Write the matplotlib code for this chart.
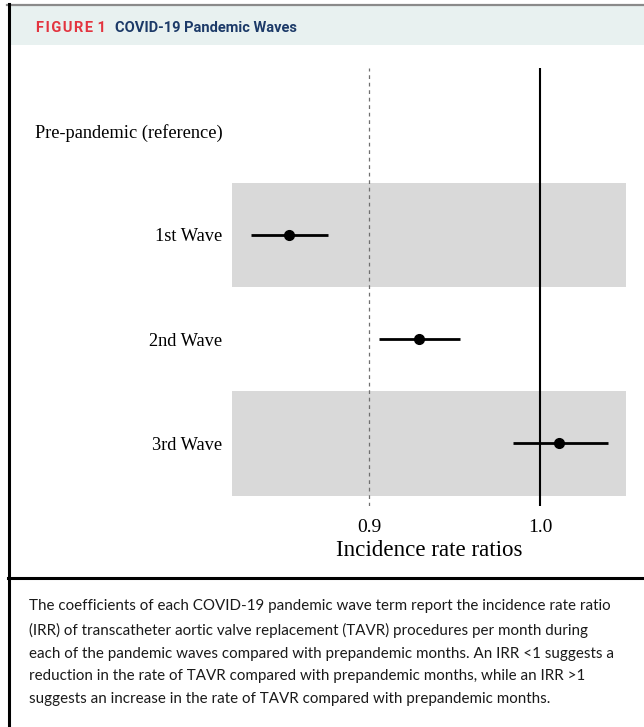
import numpy as np
import matplotlib
matplotlib.use("Agg")
import matplotlib.pyplot as plt
from matplotlib.lines import Line2D
from matplotlib.patches import Rectangle

# data
groups = ["Pre-pandemic (reference)", "1st Wave", "2nd Wave", "3rd Wave"]
irr = [np.nan, 0.853, 0.929, 1.011]
irr_low = [np.nan, 0.831, 0.906, 0.984]
irr_high = [np.nan, 0.876, 0.953, 1.040]
xticks = [0.9, 1.0]
xticklabels = ["0.9", "1.0"]

caption = (
    "The coefficients of each COVID-19 pandemic wave term report the incidence rate ratio\n"
    "(IRR) of transcatheter aortic valve replacement (TAVR) procedures per month during\n"
    "each of the pandemic waves compared with prepandemic months. An IRR <1 suggests a\n"
    "reduction in the rate of TAVR compared with prepandemic months, while an IRR >1\n"
    "suggests an increase in the rate of TAVR compared with prepandemic months."
)

W, H = 644, 727
fig = plt.figure(figsize=(W / 100, H / 100), dpi=100)
fig.patch.set_facecolor("white")


def fx(px):
    return px / W


def fy(py):
    return 1 - py / H


# header band and frame
fig.patches.append(Rectangle((fx(9), fy(45)), fx(W) - fx(9), fy(6) - fy(45),
                             transform=fig.transFigure, facecolor="#e8f1f0",
                             edgecolor="none", zorder=0))
fig.lines.append(Line2D([fx(7), 1], [fy(5), fy(5)], transform=fig.transFigure,
                        color="#8a8a8a", lw=1.6))
fig.lines.append(Line2D([fx(8.5), fx(8.5)], [fy(4), 0], transform=fig.transFigure,
                        color="black", lw=2.2))
fig.lines.append(Line2D([fx(8), 1], [fy(578), fy(578)], transform=fig.transFigure,
                        color="black", lw=2.2))

fig.text(fx(36), fy(28), "\u200a".join("FIGURE") + "\u2009\u200a1", color="#e3343f",
         fontsize=10.5, fontweight="bold", family="Roboto", va="center", ha="left")
fig.text(fx(115), fy(28), "COVID-19 Pandemic Waves", color="#1c3a68", fontsize=10.5,
         fontweight="bold", family="Roboto", va="center", ha="left")

fig.text(fx(29), fy(599), caption, color="#1a1a1a", fontsize=10.9, family="Lato",
         va="top", ha="left", linespacing=1.8)

# forest plot
ax = fig.add_axes([fx(232), fy(506), fx(626) - fx(232), fy(68) - fy(506)])
y = np.arange(len(groups))

for i in [1, 3]:
    ax.axhspan(i - 0.5, i + 0.5, color="#d9d9d9", lw=0, zorder=0)

ax.axvline(1.0, color="black", lw=1.5, zorder=1)
ax.axvline(0.9, color="#707070", lw=0.9, ls=(0, (3, 3)), zorder=1)

ax.hlines(y, irr_low, irr_high, color="black", lw=2.0, zorder=2)
ax.plot(irr, y, "o", color="black", ms=7, zorder=3)

ax.set_xlim(0.8199, 1.0503)
ax.set_ylim(3.6, -0.6)
ax.set_yticks(y)
ax.set_yticklabels(groups, fontsize=13.2, family="Liberation Serif")
ax.set_xticks(xticks)
ax.set_xticklabels(xticklabels, fontsize=14, family="Liberation Serif")
ax.tick_params(length=0, pad=7)
ax.tick_params(axis="x", pad=9)
ax.set_xlabel("Incidence rate ratios", fontsize=16.6, family="Liberation Serif", labelpad=3)
for s in ax.spines.values():
    s.set_visible(False)
ax.set_facecolor("none")

fig.savefig("out.png", dpi=100)
